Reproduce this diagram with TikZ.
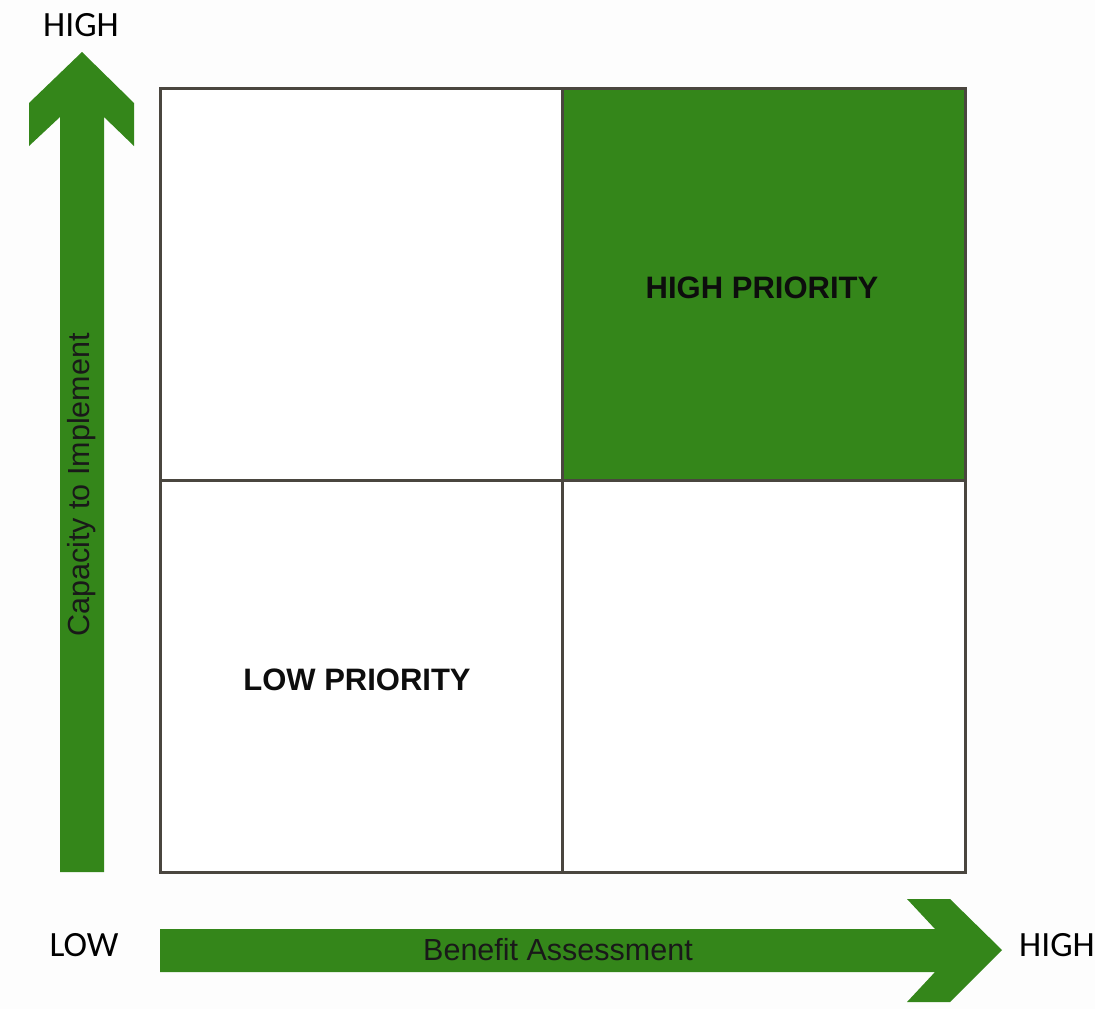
\documentclass[tikz,border=0pt]{standalone}
\usepackage{fontspec}
\setmainfont{Liberation Sans}
\newfontfamily\lblfont{Carlito}
\definecolor{agreen}{HTML}{34861A}
\definecolor{gridline}{HTML}{4A463F}
\definecolor{bgcol}{HTML}{FDFDFD}
\begin{document}
\begin{tikzpicture}[x=1pt,y=-1pt,
  cell/.style={draw=gridline,line width=3pt,fill=white},
  hicell/.style={draw=gridline,line width=3pt,fill=agreen},
  arrowshape/.style={fill=agreen,draw=none},
  endlabel/.style={font=\lblfont\fontsize{35.5}{40}\selectfont,text=black,inner sep=0pt},
  axislabel/.style={font=\fontsize{30.5}{34}\selectfont,text=black!90,inner sep=0pt},
  prio/.style={font=\bfseries\fontsize{31}{34}\selectfont,text=black!95,inner sep=0pt}]
\useasboundingbox (0,0) rectangle (1095,1009);
\fill[bgcol] (0,0) rectangle (1095,1009);
% quadrants
\draw[cell] (160,88) rectangle (562,480);
\draw[hicell] (562,88) rectangle (965,480);
\draw[cell] (160,480) rectangle (562,872);
\draw[cell] (562,480) rectangle (965,872);
% vertical arrow
\fill[arrowshape] (60,872) -- (104,872) -- (104,117) -- (134,146) -- (134,103)
  -- (82,52) -- (29,103) -- (29,146) -- (60,117) -- cycle;
% horizontal arrow
\fill[arrowshape] (160,929) -- (935,929) -- (907,899) -- (950,899) -- (1002,950)
  -- (950,1002) -- (907,1002) -- (935,972) -- (160,972) -- cycle;
% labels
\node[endlabel] (vhigh) at (81,25) {HIGH};
\node[endlabel] (hlow) at (84,945) {LOW};
\node[endlabel] (hhigh) at (1057,945) {HIGH};
\node[axislabel] (xlab) at (558,950) {Benefit Assessment};
\node[axislabel,rotate=90] (ylab) at (82,485) {Capacity to Implement};
\node[prio] (hp) at (762,288) {HIGH PRIORITY};
\node[prio] (lp) at (357,680) {LOW PRIORITY};
\end{tikzpicture}
\end{document}
